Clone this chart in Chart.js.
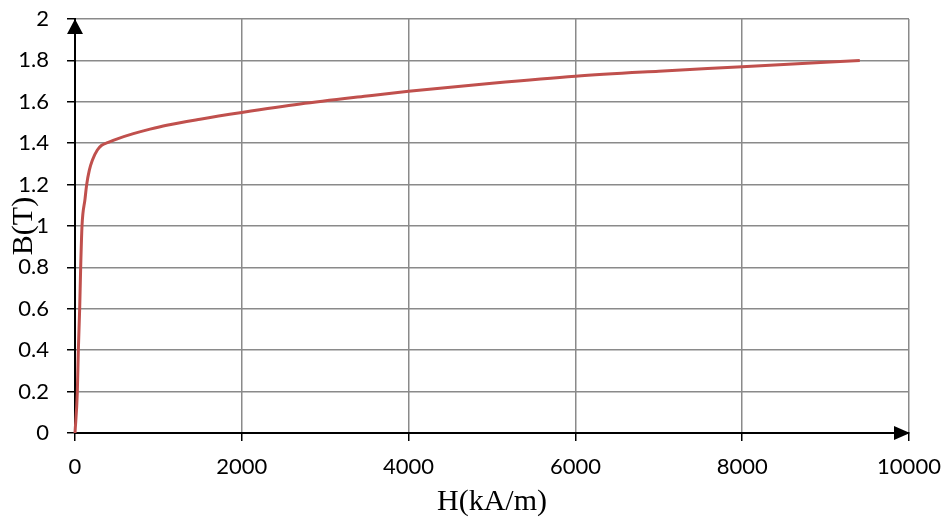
<!DOCTYPE html>
<html>
<head>
<meta charset="utf-8">
<script src="https://cdn.jsdelivr.net/npm/chart.js@4/dist/chart.umd.min.js"></script>
<style>
  html, body { margin: 0; padding: 0; background: #fff; }
  #wrap { width: 947px; height: 519px; }
</style>
</head>
<body>
<div id="wrap"><canvas id="c" width="947" height="519"></canvas></div>
<script>
// Magnetisation curve
const H_values = [0, 28, 40, 56, 68, 84, 120, 140, 172, 208, 268, 320, 400, 500, 700, 900, 1100, 1500, 2000, 2700, 3500, 4000, 5000, 6000, 7000, 8000, 9410];
const B_values = [0, 0.2, 0.4, 0.6, 0.8, 1.0, 1.13, 1.2, 1.27, 1.318, 1.367, 1.39, 1.404, 1.42, 1.446, 1.468, 1.487, 1.516, 1.548, 1.589, 1.628, 1.651, 1.69, 1.724, 1.748, 1.769, 1.8];
const xTickLabels = ['0', '2000', '4000', '6000', '8000', '10000'];
const yTickLabels = ['0', '0.2', '0.4', '0.6', '0.8', '1', '1.2', '1.4', '1.6', '1.8', '2'];
const xTitle = 'H(kA/m)';
const yTitle = 'B(T)';

const points = H_values.map((h, i) => ({ x: h, y: B_values[i] }));

const arrowPlugin = {
  id: 'axisArrows',
  afterDraw(chart) {
    const ctx = chart.ctx;
    const xs = chart.scales.x, ys = chart.scales.y;
    const x0 = xs.getPixelForValue(0), y0 = ys.getPixelForValue(0);
    const xEnd = xs.getPixelForValue(10000), yEnd = ys.getPixelForValue(2);
    ctx.save();
    ctx.fillStyle = '#000';
    // y arrow
    ctx.beginPath();
    ctx.moveTo(x0, yEnd);
    ctx.lineTo(x0 - 8, yEnd + 15);
    ctx.lineTo(x0 + 8, yEnd + 15);
    ctx.closePath();
    ctx.fill();
    // x arrow
    ctx.beginPath();
    ctx.moveTo(xEnd + 1, y0);
    ctx.lineTo(xEnd - 15, y0 - 7);
    ctx.lineTo(xEnd - 15, y0 + 7);
    ctx.closePath();
    ctx.fill();
    ctx.restore();
  }
};

new Chart(document.getElementById('c'), {
  type: 'scatter',
  data: {
    datasets: [{
      data: points,
      showLine: true,
      borderColor: '#C0504D',
      backgroundColor: '#C0504D',
      borderWidth: 3,
      pointRadius: 0,
      pointHoverRadius: 0,
      cubicInterpolationMode: 'monotone',
      clip: false
    }]
  },
  options: {
    responsive: false,
    animation: false,
    events: [],
    layout: { padding: { left: 0, right: 38, top: 19, bottom: 0 } },
    plugins: { legend: { display: false }, tooltip: { enabled: false } },
    scales: {
      x: {
        type: 'linear',
        min: 0, max: 10000,
        afterBuildTicks(scale) {
          scale.ticks = xTickLabels.map((_, i) => ({ value: i * 2000 }));
        },
        afterFit(scale) {
          scale.height = 86;
          scale.paddingLeft = 0; scale.paddingRight = 0;
          scale.paddingTop = 0; scale.paddingBottom = 0;
        },
        ticks: {
          autoSkip: false,
          maxRotation: 0,
          padding: 13,
          color: '#000',
          font: { family: 'Lato', size: 22 },
          callback: (v, i) => xTickLabels[i]
        },
        grid: { color: '#8a8a8a', lineWidth: 1.5, tickLength: 8, tickColor: '#000', tickWidth: 1.5 },
        border: { display: true, color: '#000', width: 2 },
        title: {
          display: true,
          text: xTitle,
          color: '#000',
          font: { family: 'Liberation Serif', size: 30, lineHeight: 1 },
          padding: { top: 0, bottom: 2 }
        }
      },
      y: {
        type: 'linear',
        min: 0, max: 2,
        afterBuildTicks(scale) {
          scale.ticks = yTickLabels.map((_, i) => ({ value: i * 0.2 }));
        },
        afterFit(scale) {
          scale.width = 75;
          scale.paddingLeft = 0; scale.paddingRight = 0;
          scale.paddingTop = 0; scale.paddingBottom = 0;
        },
        ticks: {
          autoSkip: false,
          padding: 18,
          color: '#000',
          font: { family: 'Lato', size: 22 },
          callback: (v, i) => yTickLabels[i]
        },
        grid: { color: '#8a8a8a', lineWidth: 1.5, tickLength: 8, tickColor: '#000', tickWidth: 1.5 },
        border: { display: true, color: '#000', width: 2 },
        title: {
          display: true,
          text: yTitle,
          color: '#000',
          font: { family: 'Liberation Serif', size: 30, lineHeight: 1 },
          padding: { top: 9, bottom: 0 }
        }
      }
    }
  },
  plugins: [arrowPlugin]
});
</script>
</body>
</html>
